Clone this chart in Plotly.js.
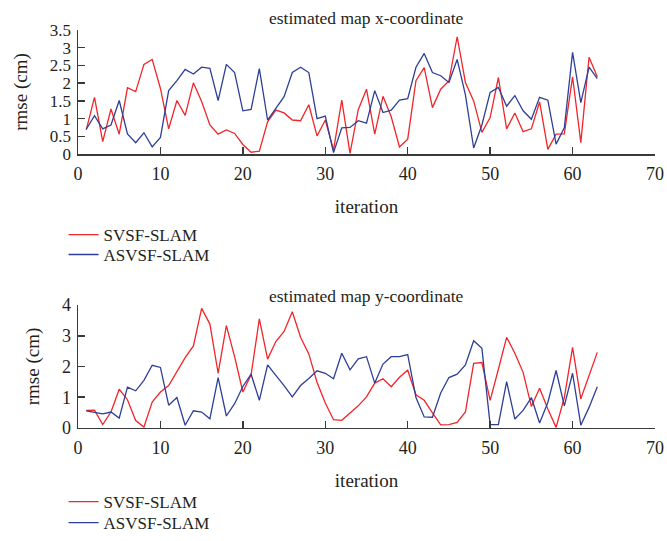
<!DOCTYPE html>
<html>
<head>
<meta charset="utf-8">
<script src="https://cdn.plot.ly/plotly-3.0.1.min.js"></script>
<style>html,body{margin:0;padding:0;background:#fff;}#chart{width:667px;height:541px;}</style>
</head>
<body>
<div id="chart"></div>
<script>
const iterations = Array.from({length: 63}, (_, i) => i + 1);

const xSVSF = [0.68,1.60,0.35,1.27,0.56,1.87,1.76,2.53,2.67,1.85,0.71,1.51,1.09,2.01,1.48,0.82,0.56,0.68,0.58,0.27,0.05,0.08,0.91,1.24,1.16,0.96,0.94,1.39,0.51,0.96,0.11,1.52,0.02,1.25,1.83,0.56,1.63,1.05,0.20,0.42,2.07,2.44,1.31,1.83,2.06,3.31,2.02,1.50,0.61,1.03,2.16,0.71,1.16,0.63,0.71,1.47,0.13,0.56,0.57,2.18,0.32,2.73,2.18];
const xASVSF = [0.70,1.08,0.71,0.82,1.51,0.57,0.32,0.60,0.20,0.47,1.79,2.07,2.39,2.26,2.45,2.42,1.51,2.53,2.30,1.22,1.26,2.41,0.96,1.29,1.62,2.30,2.45,2.30,1.00,1.07,0.04,0.74,0.75,0.94,0.87,1.79,1.17,1.24,1.52,1.56,2.45,2.84,2.30,2.21,2.02,2.67,1.67,0.17,0.82,1.74,1.88,1.35,1.65,1.22,0.98,1.60,1.52,0.28,0.74,2.87,1.45,2.45,2.13];
const ySVSF = [0.57,0.58,0.11,0.52,1.26,0.92,0.24,0.03,0.84,1.17,1.38,1.82,2.29,2.67,3.89,3.38,1.78,3.33,2.32,1.17,1.73,3.55,2.24,2.81,3.14,3.78,2.95,2.41,1.49,0.81,0.27,0.25,0.49,0.72,1.01,1.46,1.60,1.34,1.65,1.88,1.08,0.90,0.49,0.10,0.11,0.18,0.52,2.10,2.13,0.90,1.91,2.95,2.43,1.81,0.70,1.29,0.62,0.02,0.99,2.62,0.95,1.71,2.46];
const yASVSF = [0.56,0.51,0.46,0.52,0.32,1.33,1.21,1.55,2.04,1.97,0.74,0.99,0.09,0.56,0.52,0.30,1.64,0.39,0.79,1.35,1.75,0.90,2.05,1.71,1.38,1.01,1.38,1.61,1.86,1.78,1.60,2.43,1.89,2.25,2.32,1.46,2.08,2.32,2.32,2.39,0.99,0.36,0.35,1.14,1.64,1.75,2.05,2.84,2.59,0.11,0.11,1.51,0.29,0.57,0.99,0.16,0.83,1.87,0.72,1.78,0.09,0.67,1.34];

const seriesNames = ['SVSF-SLAM', 'ASVSF-SLAM'];
const titles = ['estimated map x-coordinate', 'estimated map y-coordinate'];
const xTickVals = [0,10,20,30,40,50,60,70];
const yTopTicks = [0,0.5,1,1.5,2,2.5,3,3.5];
const yTopLabels = ['0','0.5','1','1.5','2','2.5','3','3.5'];
const yBotTicks = [0,1,2,3,4];

const RED = '#f0262a', BLUE = '#2e3f98';
const FONT = 'Liberation Serif, Times New Roman, serif';
const TXT = '#231f20';

const traces = [
  {x: iterations, y: xSVSF, name: seriesNames[0], mode: 'lines', line: {color: RED, width: 1.3}, xaxis: 'x', yaxis: 'y', legend: 'legend'},
  {x: iterations, y: xASVSF, name: seriesNames[1], mode: 'lines', line: {color: BLUE, width: 1.3}, xaxis: 'x', yaxis: 'y', legend: 'legend3'},
  {x: iterations, y: ySVSF, name: seriesNames[0], mode: 'lines', line: {color: RED, width: 1.3}, xaxis: 'x2', yaxis: 'y2', legend: 'legend2'},
  {x: iterations, y: yASVSF, name: seriesNames[1], mode: 'lines', line: {color: BLUE, width: 1.3}, xaxis: 'x2', yaxis: 'y2', legend: 'legend4'}
];

const axBase = {
  showgrid: false, zeroline: false, showline: true, linecolor: '#3a3a3a', linewidth: 1.5,
  ticks: 'inside', ticklen: 7, tickwidth: 1.5, tickcolor: '#3a3a3a',
  tickfont: {family: FONT, size: 18, color: TXT}
};
const xTitle = {text: 'iteration', font: {family: FONT, size: 19, color: TXT}, standoff: 16};
const yTitle = {text: 'rmse (cm)', font: {family: FONT, size: 19, color: TXT}, standoff: 17};

const legendBase = {
  font: {family: FONT, size: 17, color: TXT}, bgcolor: 'rgba(0,0,0,0)',
  xanchor: 'left', yanchor: 'middle', tracegroupgap: 0, itemwidth: 30, x: -0.025
};

const layout = {
  width: 667, height: 541,
  margin: {l: 78, r: 12, t: 0, b: 0},
  paper_bgcolor: '#fff', plot_bgcolor: '#fff',
  font: {family: FONT, size: 18, color: TXT},
  xaxis: Object.assign({}, axBase, {range: [0, 70], tickvals: xTickVals, anchor: 'y', domain: [0, 1], ticklabelstandoff: 3, title: xTitle}),
  yaxis: Object.assign({}, axBase, {range: [0, 3.5], tickvals: yTopTicks, ticktext: yTopLabels, anchor: 'x', domain: [0.7153, 0.9445], ticklabelstandoff: 2, tickfont: {family: FONT, size: 17, color: TXT}, title: yTitle}),
  xaxis2: Object.assign({}, axBase, {range: [0, 70], tickvals: xTickVals, anchor: 'y2', domain: [0, 1], ticklabelstandoff: 3, title: xTitle}),
  yaxis2: Object.assign({}, axBase, {range: [0, 4], tickvals: yBotTicks, anchor: 'x2', domain: [0.2089, 0.4362], ticklabelstandoff: 2, title: yTitle}),
  legend: Object.assign({}, legendBase, {y: 0.5656}),
  legend3: Object.assign({}, legendBase, {y: 0.5287}),
  legend2: Object.assign({}, legendBase, {y: 0.0721}),
  legend4: Object.assign({}, legendBase, {y: 0, yanchor: 'bottom'}),
  showlegend: true,
  annotations: [
    {text: titles[0], xref: 'paper', yref: 'paper', x: 0.5, y: 0.9667, yanchor: 'middle', showarrow: false, font: {family: FONT, size: 17.5, color: TXT}},
    {text: titles[1], xref: 'paper', yref: 'paper', x: 0.5, y: 0.4529, yanchor: 'middle', showarrow: false, font: {family: FONT, size: 17.5, color: TXT}}
  ]
};

Plotly.newPlot('chart', traces, layout, {displayModeBar: false, staticPlot: true});
</script>
</body>
</html>
